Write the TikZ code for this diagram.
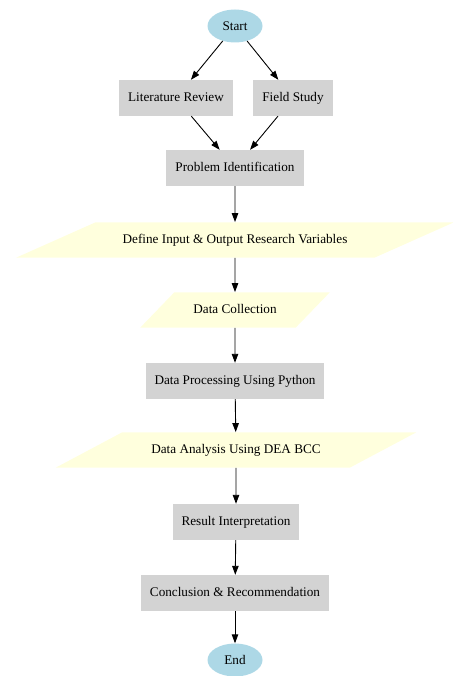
\documentclass[tikz,border=0pt]{standalone}
\usepackage{fontspec}
\setmainfont{Liberation Serif}
\usepackage{tikz}
\usetikzlibrary{shapes.geometric,arrows.meta}
\definecolor{lightblue}{RGB}{173,216,230}
\definecolor{lightgray}{RGB}{211,211,211}
\definecolor{lightyellow}{RGB}{255,255,221}

\begin{document}
\begin{tikzpicture}[x=1bp, y=-1bp]
    \tikzset{
        terminal/.style={
            ellipse, fill=lightblue,
            minimum width=55bp, minimum height=33bp,
            inner sep=0pt, font=\fontsize{13.2bp}{15bp}\selectfont
        },
        stepbox/.style={
            rectangle, fill=lightgray,
            minimum height=36bp, inner xsep=9bp,
            font=\fontsize{13.2bp}{15bp}\selectfont,
            text depth=0.25ex, text height=1.6ex
        },
        iobox/.style={
            trapezium, fill=lightyellow,
            inner ysep=13.5bp,
            font=\fontsize{13.2bp}{15bp}\selectfont,
            text depth=0.25ex, text height=1.6ex
        },
        flow/.style={-{Triangle[length=9bp,width=6.5bp]}, line width=0.9bp, black},
    }
    \useasboundingbox (0,0) rectangle (453,676);

    % ==== Start and literature / field branches ====
    \node[terminal] (start) at (235,26) {Start};
    \node[stepbox, minimum width=110bp] (litrev) at (176,98) {Literature Review};
    \node[stepbox, minimum width=80bp] (field) at (293,98) {Field Study};
    \node[stepbox] (problem) at (235,168) {Problem Identification};

    % ==== Research steps ====
    \node[iobox, inner xsep=27bp,
          trapezium left angle=24, trapezium right angle=156] (define) at (235,240)
          {Define Input \& Output Research Variables};
    \node[iobox, inner xsep=19bp,
          trapezium left angle=46, trapezium right angle=134] (collect) at (235,310)
          {Data Collection};
    \node[stepbox] (process) at (235,381) {Data Processing Using Python};
    \node[iobox, inner xsep=29bp,
          trapezium left angle=28, trapezium right angle=152] (analysis) at (236,450)
          {Data Analysis Using DEA BCC};
    \node[stepbox] (result) at (236,522) {Result Interpretation};
    \node[stepbox] (conclude) at (235,593) {Conclusion \& Recommendation};
    \node[terminal] (finish) at (235,660) {End};

    % ==== Connectors ====
    \draw[flow] (start) -- (litrev);
    \draw[flow] (start) -- (field);
    \draw[flow] (litrev) -- (problem);
    \draw[flow] (field) -- (problem);
    \draw[flow] (problem) -- (define);
    \draw[flow] (define) -- (collect);
    \draw[flow] (collect) -- (process);
    \draw[flow] (process) -- (analysis);
    \draw[flow] (analysis) -- (result);
    \draw[flow] (result) -- (conclude);
    \draw[flow] (conclude) -- (finish);

\end{tikzpicture}
\end{document}
